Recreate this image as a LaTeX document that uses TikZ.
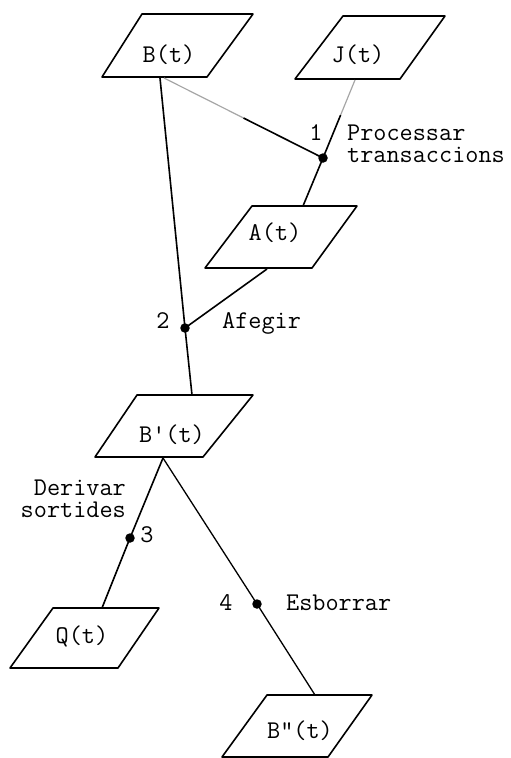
\documentclass[tikz,border=0pt]{standalone}
\usetikzlibrary{calc}
\begin{document}
\begin{tikzpicture}[x=1pt,y=-1pt,
  box/.style={draw, line width=1.6pt, line join=round},
  lbl/.style={font=\fontsize{25.5}{22}\selectfont\ttfamily, inner sep=0pt},
  dotn/.style={circle, fill, inner sep=0pt, minimum size=9.5pt},
  conn/.style={line width=1.6pt},
  faint/.style={line width=1.2pt, black!35}]
\useasboundingbox (0,0) rectangle (511,758);

% boxes
\draw[box] (142,14) -- (253,14) -- (207,77) -- (102,77) -- cycle;
\node[lbl, anchor=base] (bt) at (169,62) {B(t)};
\draw[box] (343,16) -- (445,16) -- (400,79) -- (295,79) -- cycle;
\node[lbl, anchor=base] (jt) at (358,62) {J(t)};
\draw[box] (252,206) -- (357,206) -- (312,268) -- (205,268) -- cycle;
\node[lbl, anchor=base] (at) at (275,240) {A(t)};
\draw[box] (137,395) -- (253,395) -- (203,457) -- (95,457) -- cycle;
\node[lbl, anchor=base] (bpt) at (172,442) {B'(t)};
\draw[box] (53,608) -- (159,608) -- (118,668) -- (10,668) -- cycle;
\node[lbl, anchor=base] (qt) at (82,643) {Q(t)};
\draw[box] (267,695) -- (372,695) -- (328,757) -- (222,757) -- cycle;
\node[lbl, anchor=base] (bppt) at (300,738) {B"(t)};

% attach points
\coordinate (bB1) at (160,78);
\coordinate (bB2) at (164,78);
\coordinate (bJ) at (355,80);
\coordinate (tA) at (303,206);
\coordinate (bA) at (267,269);
\coordinate (tBp) at (192,395);
\coordinate (bBp) at (163,458);
\coordinate (tQ) at (102,608);
\coordinate (tBpp) at (315,695);

% process dots
\node[dotn] (p1) at (323,158) {};
\node[dotn] (p2) at (185,328) {};
\node[dotn] (p3) at (130,538) {};
\node[dotn] (p4) at (257,604) {};

% connectors
\draw[faint] (bB2) -- ($(bB2)!0.5!(p1)$);
\draw[conn] ($(bB2)!0.5!(p1)$) -- (p1.center);
\draw[faint] (bJ) -- ($(bJ)!0.45!(p1)$);
\draw[conn] ($(bJ)!0.45!(p1)$) -- (p1.center) -- (tA);
\draw[conn] (bB1) -- (p2.center) -- (tBp);
\draw[conn] (bA) -- (p2.center);
\draw[conn] (bBp) -- (p3.center) -- (tQ);
\draw[line width=1.3pt] (bBp) -- (p4.center) -- (tBpp);

% labels
\node[lbl, anchor=base] (n1) at (316,140) {1};
\node[lbl, anchor=base west, align=left] (l1) at (347,162) {Processar\\transaccions};
\node[lbl, anchor=base] (n2) at (163,328) {2};
\node[lbl, anchor=base west] (l2) at (222,328) {Afegir};
\node[lbl, anchor=base east, align=right] (l3) at (126,517) {Derivar\\sortides};
\node[lbl, anchor=base] (n3) at (147,542) {3};
\node[lbl, anchor=base] (n4) at (226,610) {4};
\node[lbl, anchor=base west] (l4) at (286,610) {Esborrar};
\end{tikzpicture}
\end{document}
